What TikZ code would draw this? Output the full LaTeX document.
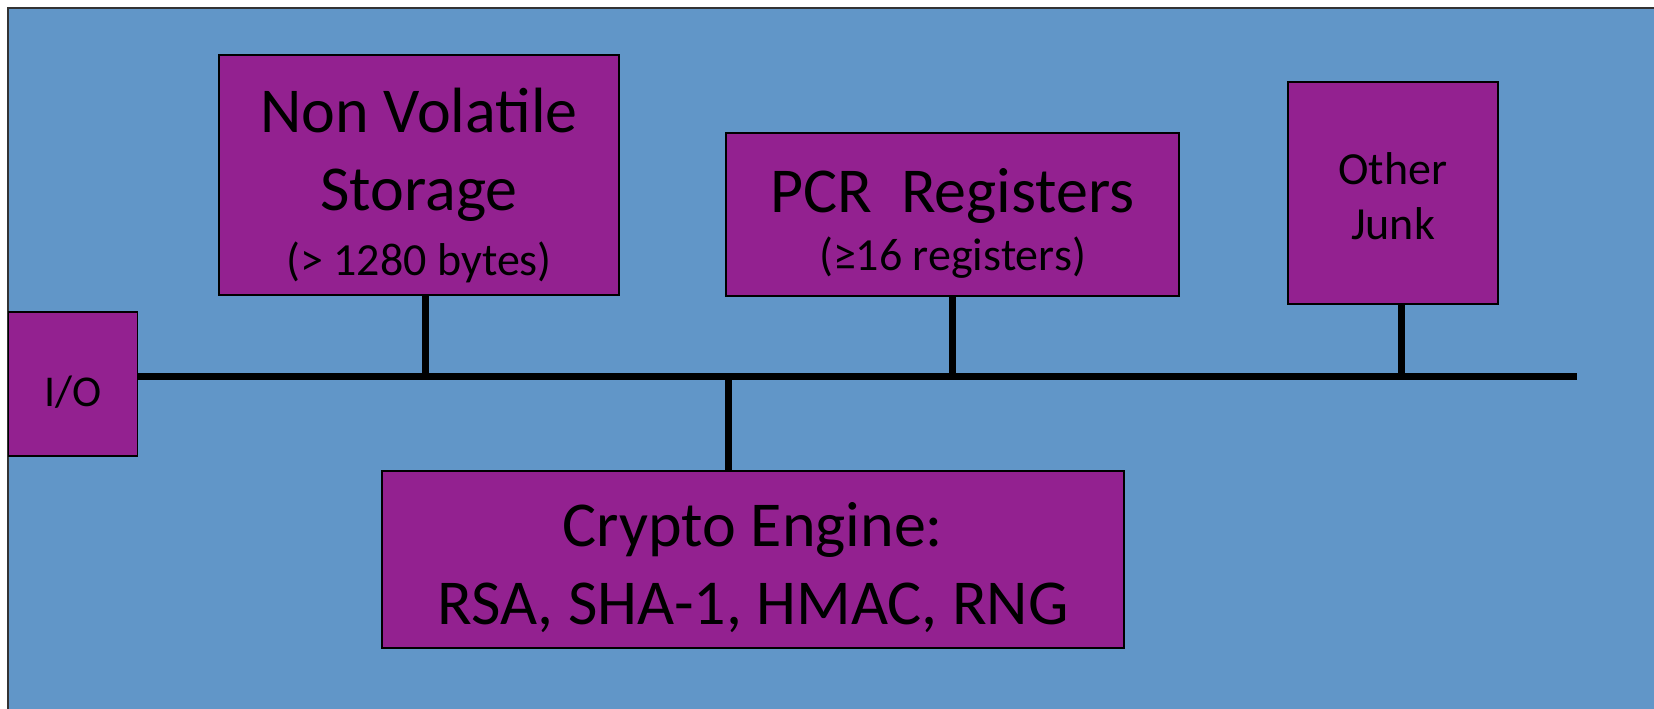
\documentclass[tikz,border=0pt]{standalone}
\usepackage{fontspec}
\setmainfont{Carlito}
\usetikzlibrary{positioning}

\begin{document}
\begin{tikzpicture}
\definecolor{boardColour}{RGB}{97, 150, 200}
			\definecolor{chipColour}{RGB}{147, 33, 144}
			\tikzstyle{chip}=[rectangle, draw=black, line width=1.6pt, fill=chipColour, inner sep=0pt, align=center, text=black]
			\tikzstyle{big}=[font=\fontsize{64}{78}\selectfont]
			\tikzstyle{small}=[font=\fontsize{46}{55}\selectfont]
			\tikzstyle{wire}=[line width=7pt, color=black]

			\useasboundingbox (0pt,0pt) rectangle (1654pt,-709pt);
			\draw [fill=boardColour, line width=1.6pt, draw=black!80] (8pt,-8pt) rectangle (1680pt,-730pt);

			% first-line struts push the text a bit lower, as in the slide
			\node [chip, big, minimum width=400pt, minimum height=240pt, xshift=419pt, yshift=-175pt] (nvram) {\rule{0pt}{66pt}Non Volatile\\Storage\\[-13pt]{\fontsize{46}{55}\selectfont (> 1280 bytes)}};
			\node [chip, big, minimum width=453pt, minimum height=163pt, xshift=952.5pt, yshift=-214.5pt] (pcr) {\rule{0pt}{62pt}PCR\ \ Registers\\[-20pt]{\fontsize{46}{55}\selectfont (≥16 registers)}};
			\node [chip, small, minimum width=210pt, minimum height=222pt, xshift=1393pt, yshift=-193pt] (junk) {\rule{0pt}{38pt}Other\\Junk};
			\node [chip, font=\fontsize{44}{53}\selectfont, minimum width=129pt, minimum height=144pt, xshift=73pt, yshift=-384pt] (io) {\rule{0pt}{47pt}I/O};
			\node [chip, big, minimum width=742pt, minimum height=177pt, xshift=753pt, yshift=-559.5pt] (crypto) {\rule{0pt}{60pt}Crypto Engine:\\RSA, SHA-1, HMAC, RNG};

			\coordinate (busend) at (1577pt,-376pt);
			\coordinate (tapNV) at (425pt,-376pt);
			\coordinate (tapCE) at (728pt,-376pt);
			\coordinate (tapPCR) at (952pt,-376pt);
			\coordinate (tapJ) at (1401pt,-376pt);

			\path[wire]
			(io.east |- busend) edge (busend)
			(tapNV) edge (tapNV |- nvram.south)
			(tapPCR) edge (tapPCR |- pcr.south)
			(tapJ) edge (tapJ |- junk.south)
			(tapCE) edge (tapCE |- crypto.north);
		\end{tikzpicture}
\end{document}
